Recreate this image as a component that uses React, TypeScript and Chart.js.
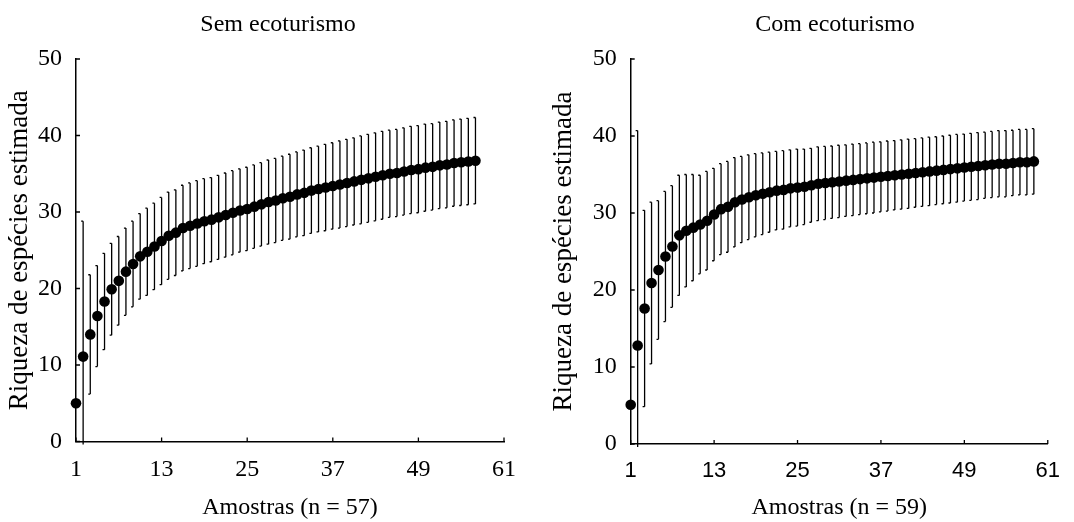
import { useEffect, useRef } from "react";
import { Chart, registerables } from "chart.js";
Chart.register(...registerables);

const xTickValues = [1, 13, 25, 37, 49, 61];
const yTickValues = [0, 10, 20, 30, 40, 50];

const semTitle = "Sem ecoturismo";
const comTitle = "Com ecoturismo";
const yAxisTitle = "Riqueza de espécies estimada";
const semXTitle = "Amostras (n = 57)";
const comXTitle = "Amostras (n = 59)";

const semMeans = [
  5.0, 11.1, 14.0, 16.4, 18.3, 19.9, 21.0, 22.2, 23.2, 24.2,
  24.8, 25.5, 26.2, 26.9, 27.3, 27.9, 28.2, 28.5, 28.8, 29.0,
  29.3, 29.6, 29.9, 30.2, 30.4, 30.7, 31.0, 31.3, 31.5, 31.8,
  32.0, 32.3, 32.5, 32.8, 33.0, 33.2, 33.4, 33.6, 33.8, 34.0,
  34.2, 34.4, 34.6, 34.8, 35.0, 35.1, 35.3, 35.5, 35.6, 35.8,
  35.9, 36.1, 36.2, 36.4, 36.5, 36.6, 36.7,
];
const semErrors = [
  0, 17.7, 7.8, 6.6, 6.3, 6.0, 5.8, 5.7, 5.6, 5.6,
  5.7, 5.65, 5.7, 5.7, 5.6, 5.6, 5.6, 5.6, 5.55, 5.5,
  5.5, 5.5, 5.5, 5.45, 5.45, 5.45, 5.45, 5.5, 5.5, 5.5,
  5.55, 5.55, 5.6, 5.6, 5.6, 5.65, 5.65, 5.7, 5.7, 5.7,
  5.75, 5.75, 5.75, 5.75, 5.7, 5.7, 5.7, 5.7, 5.7, 5.7,
  5.65, 5.65, 5.65, 5.65, 5.65, 5.65, 5.65,
];
const comMeans = [
  5.1, 12.8, 17.6, 20.9, 22.6, 24.35, 25.65, 27.1, 27.7, 28.1,
  28.5, 29.0, 29.8, 30.5, 30.8, 31.4, 31.75, 32.05, 32.3, 32.5,
  32.7, 32.9, 33.0, 33.2, 33.3, 33.4, 33.6, 33.8, 33.9, 34.0,
  34.1, 34.2, 34.3, 34.4, 34.5, 34.6, 34.7, 34.8, 34.9, 35.0,
  35.1, 35.2, 35.3, 35.4, 35.5, 35.6, 35.7, 35.8, 35.9, 36.0,
  36.1, 36.2, 36.3, 36.4, 36.4, 36.5, 36.6, 36.6, 36.7,
];
const comErrors = [
  0, 27.9, 12.75, 10.5, 9.0, 8.45, 7.9, 7.8, 7.3, 6.9,
  6.4, 6.4, 6.0, 5.9, 5.9, 5.8, 5.6, 5.5, 5.4, 5.3,
  5.2, 5.1, 5.1, 5.0, 5.0, 4.9, 4.8, 4.8, 4.75, 4.7,
  4.7, 4.65, 4.65, 4.6, 4.6, 4.6, 4.55, 4.55, 4.5, 4.5,
  4.5, 4.45, 4.45, 4.45, 4.4, 4.4, 4.4, 4.4, 4.35, 4.35,
  4.35, 4.3, 4.3, 4.3, 4.3, 4.25, 4.25, 4.25, 4.25,
];

const SERIF = '"Liberation Serif", "Times New Roman", serif';
const SANS = '"Liberation Sans", Arial, sans-serif';

const errorBarPlugin = {
  id: "errorBars",
  beforeDatasetsDraw(chart: any) {
    const ds = chart.data.datasets[0];
    const errs: number[] = ds.errors;
    const meta = chart.getDatasetMeta(0);
    const ys = chart.scales.y;
    const { ctx, chartArea } = chart;
    ctx.save();
    ctx.beginPath();
    ctx.rect(chartArea.left - 10, chartArea.top - 10, chartArea.right - chartArea.left + 20, chartArea.bottom - chartArea.top + 13);
    ctx.clip();
    ctx.strokeStyle = "#000";
    ctx.lineWidth = 1.3;
    meta.data.forEach((pt: any, i: number) => {
      const e = errs[i];
      if (!e) return;
      const m = ds.data[i].y;
      const x = pt.x;
      const yt = ys.getPixelForValue(m + e);
      const yb = ys.getPixelForValue(m - e);
      ctx.beginPath();
      ctx.moveTo(x, yt);
      ctx.lineTo(x, yb);
      ctx.moveTo(x - 2, yt);
      ctx.lineTo(x, yt);
      ctx.moveTo(x - 2, yb);
      ctx.lineTo(x, yb);
      ctx.stroke();
    });
    ctx.restore();
  },
};

const innerTicksPlugin = {
  id: "innerTicks",
  afterDraw(chart: any) {
    const { ctx, chartArea } = chart;
    const xs = chart.scales.x;
    const ys = chart.scales.y;
    ctx.save();
    ctx.strokeStyle = "#000";
    ctx.lineWidth = 1.3;
    ctx.beginPath();
    xTickValues.forEach((v) => {
      const px = xs.getPixelForValue(v);
      ctx.moveTo(px, chartArea.bottom);
      ctx.lineTo(px, chartArea.bottom - 4);
    });
    yTickValues.forEach((v) => {
      const py = ys.getPixelForValue(v);
      ctx.moveTo(chartArea.left, py);
      ctx.lineTo(chartArea.left + 4, py);
    });
    ctx.stroke();
    ctx.restore();
  },
};

const panelTitlePlugin = {
  id: "panelTitle",
  afterDraw(chart: any, _args: any, opts: any) {
    const { ctx } = chart;
    ctx.save();
    ctx.fillStyle = "#000";
    ctx.font = `24px ${SERIF}`;
    ctx.textAlign = "center";
    ctx.textBaseline = "alphabetic";
    ctx.fillText(opts.text, opts.x, opts.y);
    ctx.restore();
  },
};

type PanelProps = {
  left: number;
  title: string;
  titleX: number;
  xTitle: string;
  means: number[];
  errors: number[];
  padRight: number;
  yWidth: number;
  xHeight: number;
  yTitlePad: number;
  xTickFont: any;
};

function Panel(p: PanelProps) {
  const ref = useRef<HTMLCanvasElement>(null);
  useEffect(() => {
    if (!ref.current) return;
    const chart = new Chart(ref.current, {
      type: "scatter",
      data: {
        datasets: [
          {
            data: p.means.map((v, i) => ({ x: i + 1, y: v })),
            errors: p.errors,
            pointRadius: 5.3,
            pointHoverRadius: 5.3,
            backgroundColor: "#000",
            borderColor: "#000",
            borderWidth: 0,
            clip: false,
          } as any,
        ],
      },
      options: {
        animation: false,
        responsive: false,
        events: [],
        layout: { padding: { top: 59, right: p.padRight, bottom: 0, left: 0 } },
        plugins: {
          legend: { display: false },
          tooltip: { enabled: false },
          panelTitle: { text: p.title, x: p.titleX, y: 31 },
        } as any,
        scales: {
          x: {
            type: "linear",
            min: 1,
            max: 61,
            afterBuildTicks: (s: any) => {
              s.ticks = xTickValues.map((v) => ({ value: v }));
            },
            afterFit: (s: any) => {
              s.height = p.xHeight;
            },
            grid: { display: false, drawTicks: false },
            border: { display: true, color: "#000", width: 1.5 },
            ticks: { font: p.xTickFont, color: "#000", padding: 14, maxRotation: 0, autoSkip: false },
            title: {
              display: true,
              text: p.xTitle,
              font: { family: SERIF, size: 24 },
              color: "#000",
              padding: { top: 0, bottom: 0 },
            },
          },
          y: {
            type: "linear",
            min: 0,
            max: 50,
            afterBuildTicks: (s: any) => {
              s.ticks = yTickValues.map((v) => ({ value: v }));
            },
            afterFit: (s: any) => {
              s.width = p.yWidth;
            },
            grid: { display: false, drawTicks: false },
            border: { display: true, color: "#000", width: 1.5 },
            ticks: { font: { family: SERIF, size: 24 }, color: "#000", padding: 14 },
            title: {
              display: true,
              text: yAxisTitle,
              font: { family: SERIF, size: 27 },
              color: "#000",
              padding: { top: p.yTitlePad, bottom: 0 },
            },
          },
        },
      } as any,
      plugins: [errorBarPlugin, innerTicksPlugin, panelTitlePlugin],
    });
    return () => chart.destroy();
  }, []);
  return (
    <div style={{ position: "absolute", left: p.left, top: 0, width: 537, height: 522 }}>
      <canvas ref={ref} width={537} height={522} />
    </div>
  );
}

export default function App() {
  return (
    <div style={{ position: "fixed", left: 0, top: 0, width: 1074, height: 522, background: "#fff" }}>
      <Panel
        left={0}
        title={semTitle}
        titleX={278}
        xTitle={semXTitle}
        means={semMeans}
        errors={semErrors}
        padRight={33}
        yWidth={76}
        xHeight={80.5}
        yTitlePad={4}
        xTickFont={{ family: SERIF, size: 24 }}
      />
      <Panel
        left={537}
        title={comTitle}
        titleX={298}
        xTitle={comXTitle}
        means={comMeans}
        errors={comErrors}
        padRight={13.3}
        yWidth={93.7}
        xHeight={78}
        yTitlePad={11}
        xTickFont={{ family: SANS, size: 22 }}
      />
    </div>
  );
}
